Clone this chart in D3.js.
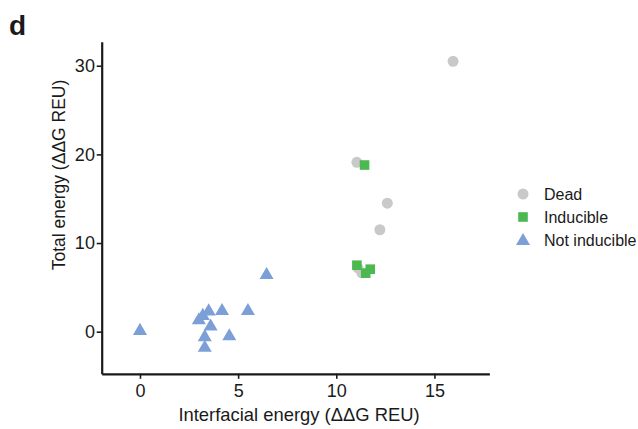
<!DOCTYPE html>
<html>
<head>
<meta charset="utf-8">
<script src="https://cdn.jsdelivr.net/npm/d3@7"></script>
<style>
  body { margin: 0; background: #fff; }
  svg { font-family: Arial, "Liberation Sans", sans-serif; }
</style>
</head>
<body>
<svg id="svg1" width="638" height="429"></svg>
<script>
var width = 638;
var height = 429;

// interfacial energy (x) / total energy (y)
var deadX = [15.95, 11.05, 12.6, 12.22, 11.3, 11.1];
var deadY = [30.5, 19.1, 14.5, 11.5, 6.65, 7.2];

var inducibleX = [11.44, 11.05, 11.73, 11.5];
var inducibleY = [18.8, 7.5, 7.05, 6.6];

var notInducibleX = [0, 6.45, 3.0, 3.5, 3.2, 4.18, 5.5, 3.6, 3.3, 4.55, 3.3];
var notInducibleY = [0.2, 6.5, 1.4, 2.4, 1.9, 2.45, 2.45, 0.7, -0.5, -0.4, -1.7];

var xTicks = [0, 5, 10, 15];
var yTicks = [0, 10, 20, 30];
var legendLabels = ['Dead', 'Inducible', 'Not inducible'];

var colGray = '#c9c9c9';
var colGreen = '#4cb950';
var colBlue = '#7d9fd7';

var svg = d3.select('#svg1');

var x = d3.scaleLinear().domain([-1.95, 17.8]).range([101.7, 489.4]);
var y = d3.scaleLinear().domain([-4.75, 32.7]).range([373.8, 41.8]);

function zip(xs, ys) {
    return xs.map(function(v, i){ return {x: v, y: ys[i]}; });
}

// axes
var xAxis = svg.append('g')
    .attr('transform', 'translate(0,' + 373.8 + ')')
    .call(d3.axisBottom(x).tickValues(xTicks).tickSize(5).tickSizeOuter(0).tickPadding(5.4));
var yAxis = svg.append('g')
    .attr('transform', 'translate(' + 101.7 + ',0)')
    .call(d3.axisLeft(y).tickValues(yTicks).tickSize(5).tickSizeOuter(0).tickPadding(1.8));

[xAxis, yAxis].forEach(function(a){
    a.select('.domain').attr('stroke', '#1a1a1a').attr('stroke-width', 2.2);
    a.selectAll('.tick line').attr('stroke', '#1a1a1a').attr('stroke-width', 1.6);
    a.selectAll('.tick text')
        .attr('font-size', 18)
        .attr('font-family', 'Arial, "Liberation Sans", sans-serif')
        .attr('fill', '#1a1a1a');
});

// points
svg.append('g').selectAll('circle')
    .data(zip(deadX, deadY))
    .enter()
    .append('circle')
    .attr('cx', function(d){ return x(d.x); })
    .attr('cy', function(d){ return y(d.y); })
    .attr('r', 5.5)
    .attr('fill', colGray);

svg.append('g').selectAll('rect')
    .data(zip(inducibleX, inducibleY))
    .enter()
    .append('rect')
    .attr('x', function(d){ return x(d.x) - 4.8; })
    .attr('y', function(d){ return y(d.y) - 4.8; })
    .attr('width', 9.6)
    .attr('height', 9.6)
    .attr('fill', colGreen);

var tri = d3.symbol().type(d3.symbolTriangle).size(85);
svg.append('g').selectAll('path')
    .data(zip(notInducibleX, notInducibleY))
    .enter()
    .append('path')
    .attr('d', tri)
    .attr('transform', function(d){ return 'translate(' + x(d.x) + ',' + (y(d.y) + 1) + ')'; })
    .attr('fill', colBlue);

// legend
var legend = svg.append('g').attr('transform', 'translate(523,194)');
var legendItems = legend.selectAll('g')
    .data(legendLabels)
    .enter()
    .append('g')
    .attr('transform', function(d, i){ return 'translate(0,' + (i * 23) + ')'; });

legendItems.each(function(d, i){
    var g = d3.select(this);
    if (i == 0) {
        g.append('circle').attr('r', 5.5).attr('fill', colGray);
    } else if (i == 1) {
        g.append('rect').attr('x', -4.8).attr('y', -4.8).attr('width', 9.6).attr('height', 9.6).attr('fill', colGreen);
    } else {
        g.append('path').attr('d', tri).attr('transform', 'translate(0,1)').attr('fill', colBlue);
    }
    g.append('text')
        .attr('x', 21)
        .attr('y', 0)
        .attr('dy', '0.35em')
        .attr('font-size', 16)
        .attr('fill', '#1a1a1a')
        .text(d);
});

// axis titles
svg.append('text')
    .attr('x', 299)
    .attr('y', 421)
    .attr('text-anchor', 'middle')
    .attr('font-size', 18.4)
    .attr('fill', '#1a1a1a')
    .text('Interfacial energy (\u0394\u0394G REU)');

svg.append('text')
    .attr('transform', 'translate(65,175) rotate(-90)')
    .attr('text-anchor', 'middle')
    .attr('font-size', 17.5)
    .attr('fill', '#1a1a1a')
    .text('Total energy (\u0394\u0394G REU)');

// panel letter
svg.append('text')
    .attr('x', 9)
    .attr('y', 35)
    .attr('font-size', 28)
    .attr('font-weight', 'bold')
    .attr('fill', '#1a1a1a')
    .text('d');
</script>
</body>
</html>
